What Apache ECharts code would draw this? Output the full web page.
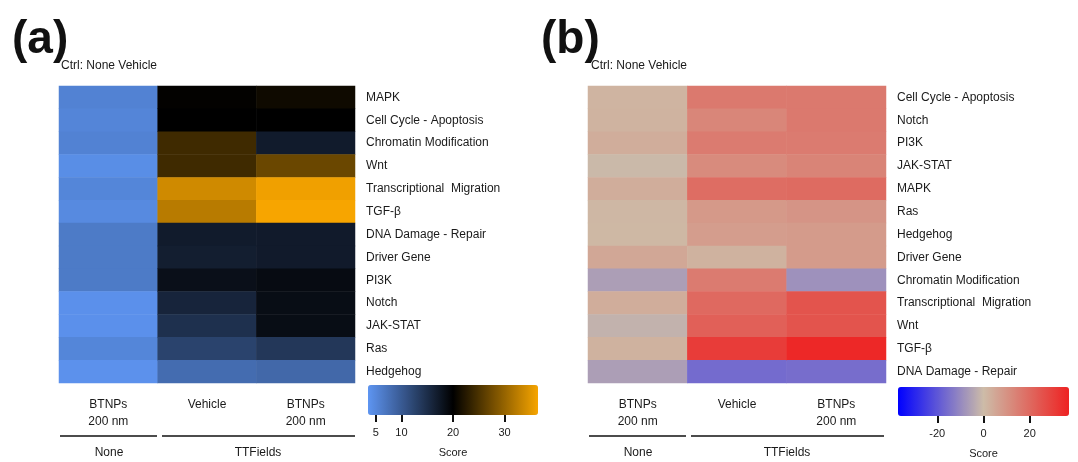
<!DOCTYPE html>
<html>
<head>
<meta charset="utf-8">
<script src="https://cdn.jsdelivr.net/npm/echarts@6/dist/echarts.min.js"></script>
<style>html,body{margin:0;padding:0;background:#fff;}#c{width:1078px;height:462px;}</style>
</head>
<body>
<div id="c"></div>
<script>
// ---------- data ----------
const colKeys = ['none_btnps', 'tt_vehicle', 'tt_btnps'];
const colLabels = ['BTNPs\n200 nm', 'Vehicle', 'BTNPs\n200 nm'];
const groupLabels = ['None', 'TTFields'];

const rowsA = ['MAPK', 'Cell Cycle - Apoptosis', 'Chromatin Modification', 'Wnt',
  'Transcriptional  Migration', 'TGF-β', 'DNA Damage - Repair', 'Driver Gene',
  'PI3K', 'Notch', 'JAK-STAT', 'Ras', 'Hedgehog'];
const aNoneBTNPs   = [5.6, 5.3, 5.6, 4.3, 5.2, 4.7, 6.4, 6.4, 6.4, 4.0, 4.0, 5.2, 3.9];
const aTTVehicle   = [20.2, 20.0, 24.2, 24.2, 33.8, 32.3, 17.0, 16.7, 18.3, 16.0, 14.7, 12.6, 8.0];
const aTTBTNPs     = [21.0, 20.0, 17.0, 27.1, 36.0, 36.5, 17.1, 17.1, 18.8, 18.6, 18.6, 13.9, 8.5];
const ticksA = [5, 10, 20, 30];

const rowsB = ['Cell Cycle - Apoptosis', 'Notch', 'PI3K', 'JAK-STAT', 'MAPK', 'Ras',
  'Hedgehog', 'Driver Gene', 'Chromatin Modification', 'Transcriptional  Migration',
  'Wnt', 'TGF-β', 'DNA Damage - Repair'];
const bNoneBTNPs   = [2, 2.2, 3.5, -0.5, 3.5, 1.2, 1, 5, -6, 3.5, -2, 2.5, -6];
const bTTVehicle   = [16, 13, 15.5, 11.8, 19, 8.5, 7.5, 2.5, 15.5, 20, 22, 30.7, -16];
const bTTBTNPs     = [16, 16, 15.5, 13.5, 19.5, 9.5, 8, 8, -8.5, 25, 25, 35.5, -15.5];
const ticksB = [-20, 0, 20];

// ---------- build ----------
function cells(cols) {
  const out = [];
  cols.forEach((arr, ci) => arr.forEach((v, ri) => out.push([ci, ri, v])));
  return out;
}
const FONT = 'Arial, "Liberation Sans", sans-serif';
const TXT = '#1a1a1a';

function heatAxes(gridIndex, rows) {
  return {
    x: {
      type: 'category', gridIndex, data: colKeys, position: 'bottom',
      axisLine: {show: false}, axisTick: {show: false}, splitLine: {show: false},
      axisLabel: {
        margin: 13, color: TXT, fontFamily: FONT, fontSize: 12, lineHeight: 17,
        formatter: (v) => colLabels[colKeys.indexOf(v)]
      }
    },
    y: {
      type: 'category', gridIndex, data: rows, position: 'right', inverse: true,
      axisLine: {show: false}, axisTick: {show: false}, splitLine: {show: false},
      axisLabel: {margin: 11, color: TXT, fontFamily: FONT, fontSize: 12, align: 'left'}
    }
  };
}
function barAxis(gridIndex, min, max, ticks) {
  return {
    type: 'value', gridIndex, min, max, position: 'bottom',
    axisLine: {show: false}, splitLine: {show: false},
    axisTick: {show: true, customValues: ticks, length: 7, lineStyle: {color: '#111', width: 2}},
    axisLabel: {customValues: ticks, margin: 12, color: TXT, fontFamily: FONT, fontSize: 11},
    name: 'Score', nameLocation: 'middle', nameGap: 32,
    nameTextStyle: {color: TXT, fontFamily: FONT, fontSize: 11}
  };
}
const hA = heatAxes(0, rowsA), hB = heatAxes(1, rowsB);

const lineStyle = {stroke: '#111', lineWidth: 1.5};
function groupGraphics(x0) {
  return [
    {type: 'line', shape: {x1: x0 + 1, y1: 436, x2: x0 + 98, y2: 436}, style: lineStyle},
    {type: 'line', shape: {x1: x0 + 103, y1: 436, x2: x0 + 296, y2: 436}, style: lineStyle},
    {type: 'text', x: x0 + 50, y: 453, style: {text: groupLabels[0], font: '12px ' + FONT, fill: TXT, align: 'center', verticalAlign: 'middle'}},
    {type: 'text', x: x0 + 199, y: 453, style: {text: groupLabels[1], font: '12px ' + FONT, fill: TXT, align: 'center', verticalAlign: 'middle'}}
  ];
}

const option = {
  backgroundColor: '#fff',
  animation: false,
  title: [
    {text: '(a)', left: 7, top: 12, textStyle: {fontSize: 46, fontWeight: 'bold', color: '#111', fontFamily: FONT}},
    {text: '(b)', left: 536, top: 12, textStyle: {fontSize: 46, fontWeight: 'bold', color: '#111', fontFamily: FONT}},
    {text: 'Ctrl: None Vehicle', left: 56, top: 55, textStyle: {fontSize: 12, fontWeight: 'normal', color: TXT, fontFamily: FONT}},
    {text: 'Ctrl: None Vehicle', left: 586, top: 55, textStyle: {fontSize: 12, fontWeight: 'normal', color: TXT, fontFamily: FONT}}
  ],
  grid: [
    {left: 59, top: 86, width: 296, height: 297},
    {left: 588, top: 86, width: 298, height: 297},
    {left: 368, top: 414, width: 170, height: 1},
    {left: 898, top: 415, width: 171, height: 1}
  ],
  xAxis: [hA.x, hB.x, barAxis(2, 3.5, 36.5, ticksA), barAxis(3, -37, 37, ticksB)],
  yAxis: [hA.y, hB.y,
    {type: 'value', gridIndex: 2, show: false},
    {type: 'value', gridIndex: 3, show: false}],
  visualMap: [
    {type: 'continuous', seriesIndex: 0, min: 3.5, max: 36.5, orient: 'horizontal',
      left: 368, top: 385, itemWidth: 30, itemHeight: 170, padding: 0,
      calculable: false, hoverLink: false, text: ['', ''], showLabel: false,
      inRange: {color: ['#5E95F2', '#000000', '#F7A500']}},
    {type: 'continuous', seriesIndex: 1, min: -37, max: 37, orient: 'horizontal',
      left: 898, top: 387, itemWidth: 29, itemHeight: 171, padding: 0,
      calculable: false, hoverLink: false, text: ['', ''], showLabel: false,
      inRange: {color: ['#0000FF', '#CDBCA8', '#EE2222']}}
  ],
  series: [
    {type: 'heatmap', xAxisIndex: 0, yAxisIndex: 0,
      data: cells([aNoneBTNPs, aTTVehicle, aTTBTNPs]), itemStyle: {borderWidth: 0}},
    {type: 'heatmap', xAxisIndex: 1, yAxisIndex: 1,
      data: cells([bNoneBTNPs, bTTVehicle, bTTBTNPs]), itemStyle: {borderWidth: 0}}
  ],
  graphic: groupGraphics(59).concat(groupGraphics(588))
};
const chart = echarts.init(document.getElementById('c'), null, {renderer: 'canvas'});
chart.setOption(option);
</script>
</body>
</html>
